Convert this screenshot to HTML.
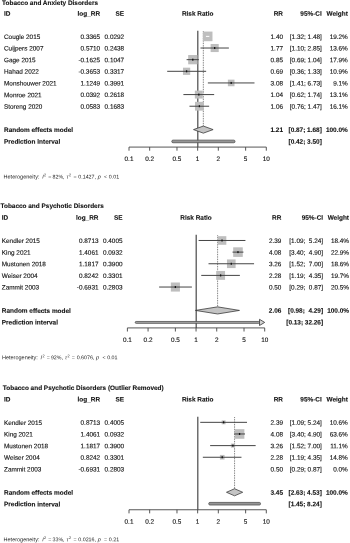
<!DOCTYPE html>
<html><head><meta charset="utf-8"><title>Forest plots</title>
<style>
html,body{margin:0;padding:0;background:#fff;}
body{width:350px;height:543px;overflow:hidden;font-family:"Liberation Sans",sans-serif;}
svg{display:block;will-change:transform;text-rendering:geometricPrecision;font-family:"Liberation Sans",sans-serif;font-size:6.4px;fill:#111;}
text{stroke:#111;stroke-width:0.12px;}
.h,.hh,.hi,.hs{stroke:none;fill:#262626;}.hh{font-size:5.52px;}.h{font-size:5.3px;}.hi{font-size:5.4px;font-style:italic;}.hs{font-size:3.7px;}
.b{font-weight:bold;font-size:6.45px;stroke-width:0.1px;}
</style></head><body>
<svg width="350" height="543" viewBox="0 0 350 543">
<rect x="0" y="0" width="350" height="543" fill="#ffffff"/>
<line x1="197.80" y1="30.68" x2="197.80" y2="147.09" stroke="#505050" stroke-width="1.25"/>
<line x1="203.33" y1="31.28" x2="203.33" y2="129.60" stroke="#222" stroke-width="0.7" stroke-dasharray="0.8 0.9"/>
<rect x="202.88" y="31.58" width="9.60" height="9.60" fill="#bebebe"/>
<line x1="205.93" y1="36.38" x2="209.34" y2="36.38" stroke="#fff" stroke-width="1"/>
<rect x="210.63" y="43.98" width="8.08" height="8.08" fill="#bebebe"/>
<line x1="200.49" y1="48.02" x2="228.88" y2="48.02" stroke="#444" stroke-width="1"/>
<rect x="214.02" y="47.02" width="1.3" height="2" fill="#111"/>
<rect x="188.17" y="55.03" width="9.27" height="9.27" fill="#bebebe"/>
<line x1="186.59" y1="59.66" x2="198.82" y2="59.66" stroke="#444" stroke-width="1"/>
<rect x="192.15" y="58.66" width="1.3" height="2" fill="#111"/>
<rect x="182.97" y="67.68" width="7.23" height="7.23" fill="#bebebe"/>
<line x1="167.19" y1="71.30" x2="206.15" y2="71.30" stroke="#444" stroke-width="1"/>
<rect x="185.94" y="70.30" width="1.3" height="2" fill="#111"/>
<rect x="227.88" y="79.64" width="6.61" height="6.61" fill="#bebebe"/>
<line x1="207.89" y1="82.94" x2="254.49" y2="82.94" stroke="#444" stroke-width="1"/>
<rect x="230.54" y="81.94" width="1.3" height="2" fill="#111"/>
<rect x="194.85" y="90.62" width="7.93" height="7.93" fill="#bebebe"/>
<line x1="183.40" y1="94.58" x2="214.16" y2="94.58" stroke="#444" stroke-width="1"/>
<rect x="198.17" y="93.58" width="1.3" height="2" fill="#111"/>
<rect x="194.99" y="101.82" width="8.79" height="8.79" fill="#bebebe"/>
<line x1="189.47" y1="106.22" x2="209.14" y2="106.22" stroke="#444" stroke-width="1"/>
<rect x="198.74" y="105.22" width="1.3" height="2" fill="#111"/>
<polygon points="193.50,129.60 203.33,126.05 213.12,129.60 203.33,133.15" fill="#c4c4c4" stroke="#333" stroke-width="0.75" stroke-linejoin="round"/>
<rect x="171.79" y="140.14" width="63.21" height="2.6" rx="1.2" fill="#959595" stroke="#505050" stroke-width="0.8"/>
<line x1="129.00" y1="147.09" x2="266.30" y2="147.09" stroke="#444" stroke-width="0.9"/>
<line x1="129.00" y1="147.09" x2="129.00" y2="150.69" stroke="#444" stroke-width="0.9"/>
<line x1="149.67" y1="147.09" x2="149.67" y2="150.69" stroke="#444" stroke-width="0.9"/>
<line x1="176.98" y1="147.09" x2="176.98" y2="150.69" stroke="#444" stroke-width="0.9"/>
<line x1="197.65" y1="147.09" x2="197.65" y2="150.69" stroke="#444" stroke-width="0.9"/>
<line x1="218.32" y1="147.09" x2="218.32" y2="150.69" stroke="#444" stroke-width="0.9"/>
<line x1="245.63" y1="147.09" x2="245.63" y2="150.69" stroke="#444" stroke-width="0.9"/>
<line x1="266.30" y1="147.09" x2="266.30" y2="150.69" stroke="#444" stroke-width="0.9"/>
<line x1="196.20" y1="234.78" x2="196.20" y2="327.91" stroke="#505050" stroke-width="1.25"/>
<line x1="217.60" y1="235.38" x2="217.60" y2="310.42" stroke="#222" stroke-width="0.7" stroke-dasharray="0.8 0.9"/>
<rect x="217.72" y="236.18" width="8.61" height="8.61" fill="#bebebe"/>
<line x1="198.62" y1="240.48" x2="245.43" y2="240.48" stroke="#444" stroke-width="1"/>
<rect x="221.38" y="239.48" width="1.3" height="2" fill="#111"/>
<rect x="233.17" y="247.32" width="9.60" height="9.60" fill="#bebebe"/>
<line x1="232.54" y1="252.12" x2="243.43" y2="252.12" stroke="#444" stroke-width="1"/>
<rect x="237.32" y="251.12" width="1.3" height="2" fill="#111"/>
<rect x="226.96" y="259.43" width="8.65" height="8.65" fill="#bebebe"/>
<line x1="208.53" y1="263.76" x2="254.07" y2="263.76" stroke="#444" stroke-width="1"/>
<rect x="230.63" y="262.76" width="1.3" height="2" fill="#111"/>
<rect x="216.17" y="270.95" width="8.90" height="8.90" fill="#bebebe"/>
<line x1="201.24" y1="275.40" x2="239.88" y2="275.40" stroke="#444" stroke-width="1"/>
<rect x="219.97" y="274.40" width="1.3" height="2" fill="#111"/>
<rect x="170.84" y="282.50" width="9.08" height="9.08" fill="#bebebe"/>
<line x1="159.14" y1="287.04" x2="191.90" y2="287.04" stroke="#444" stroke-width="1"/>
<rect x="174.73" y="286.04" width="1.3" height="2" fill="#111"/>
<polygon points="195.45,310.42 217.60,306.87 239.47,310.42 217.60,313.97" fill="#c4c4c4" stroke="#333" stroke-width="0.75" stroke-linejoin="round"/>
<rect x="135.22" y="321.46" width="124.48" height="1.9" rx="0.9" fill="#a6a6a6" stroke="#484848" stroke-width="0.75"/>
<polygon points="259.50,319.31 264.70,322.41 259.50,325.51" fill="#d2d2d2" stroke="#484848" stroke-width="0.9"/>
<line x1="127.40" y1="327.91" x2="264.70" y2="327.91" stroke="#444" stroke-width="0.9"/>
<line x1="127.40" y1="327.91" x2="127.40" y2="331.51" stroke="#444" stroke-width="0.9"/>
<line x1="148.07" y1="327.91" x2="148.07" y2="331.51" stroke="#444" stroke-width="0.9"/>
<line x1="175.38" y1="327.91" x2="175.38" y2="331.51" stroke="#444" stroke-width="0.9"/>
<line x1="196.05" y1="327.91" x2="196.05" y2="331.51" stroke="#444" stroke-width="0.9"/>
<line x1="216.72" y1="327.91" x2="216.72" y2="331.51" stroke="#444" stroke-width="0.9"/>
<line x1="244.03" y1="327.91" x2="244.03" y2="331.51" stroke="#444" stroke-width="0.9"/>
<line x1="264.70" y1="327.91" x2="264.70" y2="331.51" stroke="#444" stroke-width="0.9"/>
<line x1="197.80" y1="416.63" x2="197.80" y2="509.76" stroke="#505050" stroke-width="1.25"/>
<line x1="234.57" y1="417.23" x2="234.57" y2="492.27" stroke="#222" stroke-width="0.7" stroke-dasharray="0.8 0.9"/>
<rect x="221.67" y="420.37" width="3.92" height="3.92" fill="#bebebe"/>
<line x1="200.22" y1="422.33" x2="247.03" y2="422.33" stroke="#444" stroke-width="1"/>
<rect x="222.98" y="421.33" width="1.3" height="2" fill="#111"/>
<rect x="234.77" y="429.17" width="9.60" height="9.60" fill="#bebebe"/>
<line x1="234.14" y1="433.97" x2="245.03" y2="433.97" stroke="#444" stroke-width="1"/>
<rect x="238.92" y="432.97" width="1.3" height="2" fill="#111"/>
<rect x="230.88" y="443.60" width="4.01" height="4.01" fill="#bebebe"/>
<line x1="210.13" y1="445.61" x2="255.67" y2="445.61" stroke="#444" stroke-width="1"/>
<rect x="232.23" y="444.61" width="1.3" height="2" fill="#111"/>
<rect x="219.91" y="454.93" width="4.63" height="4.63" fill="#bebebe"/>
<line x1="202.84" y1="457.25" x2="241.48" y2="457.25" stroke="#444" stroke-width="1"/>
<rect x="221.57" y="456.25" width="1.3" height="2" fill="#111"/>
<polygon points="226.48,492.27 234.57,488.72 242.69,492.27 234.57,495.82" fill="#c4c4c4" stroke="#333" stroke-width="0.75" stroke-linejoin="round"/>
<rect x="208.73" y="502.41" width="51.80" height="2.6" rx="1.2" fill="#959595" stroke="#505050" stroke-width="0.8"/>
<line x1="129.00" y1="509.76" x2="266.30" y2="509.76" stroke="#444" stroke-width="0.9"/>
<line x1="129.00" y1="509.76" x2="129.00" y2="513.36" stroke="#444" stroke-width="0.9"/>
<line x1="149.67" y1="509.76" x2="149.67" y2="513.36" stroke="#444" stroke-width="0.9"/>
<line x1="176.98" y1="509.76" x2="176.98" y2="513.36" stroke="#444" stroke-width="0.9"/>
<line x1="197.65" y1="509.76" x2="197.65" y2="513.36" stroke="#444" stroke-width="0.9"/>
<line x1="218.32" y1="509.76" x2="218.32" y2="513.36" stroke="#444" stroke-width="0.9"/>
<line x1="245.63" y1="509.76" x2="245.63" y2="513.36" stroke="#444" stroke-width="0.9"/>
<line x1="266.30" y1="509.76" x2="266.30" y2="513.36" stroke="#444" stroke-width="0.9"/>
<g transform="matrix(1 0.0005 0 1 0 0)">
<text x="2.10" y="5.00" class="b">Tobacco and Anxiety Disorders</text>
<text x="4.00" y="15.65" class="b">ID</text>
<text x="100.10" y="15.60" text-anchor="end" class="b">log_RR</text>
<text x="124.10" y="15.59" text-anchor="end" class="b">SE</text>
<text x="197.65" y="15.55" text-anchor="middle" class="b">Risk Ratio</text>
<text x="283.00" y="15.51" text-anchor="end" class="b">RR</text>
<text x="321.80" y="15.49" text-anchor="end" class="b">95%-CI</text>
<text x="347.80" y="15.48" text-anchor="end" class="b">Weight</text>
<text x="4.00" y="38.93">Cougle 2015</text>
<text x="100.10" y="38.88" text-anchor="end">0.3365</text>
<text x="124.10" y="38.87" text-anchor="end">0.0292</text>
<text x="283.00" y="38.79" text-anchor="end">1.40</text>
<text x="321.80" y="38.77" text-anchor="end">[1.32; 1.48]</text>
<text x="347.80" y="38.76" text-anchor="end">19.2%</text>
<text x="4.00" y="50.57">Cuijpers 2007</text>
<text x="100.10" y="50.52" text-anchor="end">0.5710</text>
<text x="124.10" y="50.51" text-anchor="end">0.2438</text>
<text x="283.00" y="50.43" text-anchor="end">1.77</text>
<text x="321.80" y="50.41" text-anchor="end">[1.10; 2.85]</text>
<text x="347.80" y="50.40" text-anchor="end">13.6%</text>
<text x="4.00" y="62.21">Gage 2015</text>
<text x="100.10" y="62.16" text-anchor="end">-0.1625</text>
<text x="124.10" y="62.15" text-anchor="end">0.1047</text>
<text x="283.00" y="62.07" text-anchor="end">0.85</text>
<text x="321.80" y="62.05" text-anchor="end">[0.69; 1.04]</text>
<text x="347.80" y="62.04" text-anchor="end">17.9%</text>
<text x="4.00" y="73.85">Hahad 2022</text>
<text x="100.10" y="73.80" text-anchor="end">-0.3653</text>
<text x="124.10" y="73.79" text-anchor="end">0.3317</text>
<text x="283.00" y="73.71" text-anchor="end">0.69</text>
<text x="321.80" y="73.69" text-anchor="end">[0.36; 1.33]</text>
<text x="347.80" y="73.68" text-anchor="end">10.9%</text>
<text x="4.00" y="85.49">Monshouwer 2021</text>
<text x="100.10" y="85.44" text-anchor="end">1.1249</text>
<text x="124.10" y="85.43" text-anchor="end">0.3991</text>
<text x="283.00" y="85.35" text-anchor="end">3.08</text>
<text x="321.80" y="85.33" text-anchor="end">[1.41; 6.73]</text>
<text x="347.80" y="85.32" text-anchor="end">9.1%</text>
<text x="4.00" y="97.13">Monroe 2021</text>
<text x="100.10" y="97.08" text-anchor="end">0.0392</text>
<text x="124.10" y="97.07" text-anchor="end">0.2618</text>
<text x="283.00" y="96.99" text-anchor="end">1.04</text>
<text x="321.80" y="96.97" text-anchor="end">[0.62; 1.74]</text>
<text x="347.80" y="96.96" text-anchor="end">13.1%</text>
<text x="4.00" y="108.77">Storeng 2020</text>
<text x="100.10" y="108.72" text-anchor="end">0.0583</text>
<text x="124.10" y="108.71" text-anchor="end">0.1683</text>
<text x="283.00" y="108.63" text-anchor="end">1.06</text>
<text x="321.80" y="108.61" text-anchor="end">[0.76; 1.47]</text>
<text x="347.80" y="108.60" text-anchor="end">16.1%</text>
<text x="4.00" y="132.05" class="b">Random effects model</text>
<text x="283.00" y="131.91" text-anchor="end" class="b">1.21</text>
<text x="321.80" y="131.89" text-anchor="end" class="b">[0.87; 1.68]</text>
<text x="347.80" y="131.88" text-anchor="end" class="b">100.0%</text>
<text x="4.00" y="143.69" class="b">Prediction interval</text>
<text x="321.80" y="143.53" text-anchor="end" class="b">[0.42; 3.50]</text>
<text x="129.00" y="161.03" text-anchor="middle">0.1</text>
<text x="149.67" y="161.02" text-anchor="middle">0.2</text>
<text x="176.98" y="161.00" text-anchor="middle">0.5</text>
<text x="197.65" y="160.99" text-anchor="middle">1</text>
<text x="218.32" y="160.98" text-anchor="middle">2</text>
<text x="245.63" y="160.97" text-anchor="middle">5</text>
<text x="266.30" y="160.96" text-anchor="middle">10</text>
<text x="3.55" y="178.51" class="hh">Heterogeneity:</text>
<text x="42.20" y="178.49" class="hi">I</text>
<text x="44.00" y="176.29" class="hs">2</text>
<text x="48.30" y="178.49" class="h">=</text>
<text x="52.50" y="178.48" class="h">82%,</text>
<text x="66.50" y="178.48" class="hi">τ</text>
<text x="69.00" y="176.28" class="hs">2</text>
<text x="73.40" y="178.47" class="h">=</text>
<text x="78.30" y="178.47" class="h">0.1427,</text>
<text x="97.70" y="178.46" class="hi">p</text>
<text x="104.10" y="178.46" class="h">&lt;</text>
<text x="108.80" y="178.46" class="h">0.01</text>
<text x="0.50" y="208.00" class="b">Tobacco and Psychotic Disorders</text>
<text x="1.80" y="219.75" class="b">ID</text>
<text x="98.50" y="219.70" text-anchor="end" class="b">log_RR</text>
<text x="122.50" y="219.69" text-anchor="end" class="b">SE</text>
<text x="196.05" y="219.65" text-anchor="middle" class="b">Risk Ratio</text>
<text x="281.40" y="219.61" text-anchor="end" class="b">RR</text>
<text x="323.10" y="219.59" text-anchor="end" class="b">95%-CI</text>
<text x="349.00" y="219.58" text-anchor="end" class="b">Weight</text>
<text x="1.80" y="243.03">Kendler 2015</text>
<text x="98.50" y="242.98" text-anchor="end">0.8713</text>
<text x="122.50" y="242.97" text-anchor="end">0.4005</text>
<text x="281.40" y="242.89" text-anchor="end">2.39</text>
<text x="323.10" y="242.87" text-anchor="end">[1.09; &#160;5.24]</text>
<text x="349.00" y="242.86" text-anchor="end">18.4%</text>
<text x="1.80" y="254.67">King 2021</text>
<text x="98.50" y="254.62" text-anchor="end">1.4061</text>
<text x="122.50" y="254.61" text-anchor="end">0.0932</text>
<text x="281.40" y="254.53" text-anchor="end">4.08</text>
<text x="323.10" y="254.51" text-anchor="end">[3.40; &#160;4.90]</text>
<text x="349.00" y="254.50" text-anchor="end">22.9%</text>
<text x="1.80" y="266.31">Mustonen 2018</text>
<text x="98.50" y="266.26" text-anchor="end">1.1817</text>
<text x="122.50" y="266.25" text-anchor="end">0.3900</text>
<text x="281.40" y="266.17" text-anchor="end">3.26</text>
<text x="323.10" y="266.15" text-anchor="end">[1.52; &#160;7.00]</text>
<text x="349.00" y="266.14" text-anchor="end">18.6%</text>
<text x="1.80" y="277.95">Weiser 2004</text>
<text x="98.50" y="277.90" text-anchor="end">0.8242</text>
<text x="122.50" y="277.89" text-anchor="end">0.3301</text>
<text x="281.40" y="277.81" text-anchor="end">2.28</text>
<text x="323.10" y="277.79" text-anchor="end">[1.19; &#160;4.35]</text>
<text x="349.00" y="277.78" text-anchor="end">19.7%</text>
<text x="1.80" y="289.59">Zammit 2003</text>
<text x="98.50" y="289.54" text-anchor="end">-0.6931</text>
<text x="122.50" y="289.53" text-anchor="end">0.2803</text>
<text x="281.40" y="289.45" text-anchor="end">0.50</text>
<text x="323.10" y="289.43" text-anchor="end">[0.29; &#160;0.87]</text>
<text x="349.00" y="289.42" text-anchor="end">20.5%</text>
<text x="1.80" y="312.87" class="b">Random effects model</text>
<text x="281.40" y="312.73" text-anchor="end" class="b">2.06</text>
<text x="323.10" y="312.71" text-anchor="end" class="b">[0.98; &#160;4.29]</text>
<text x="349.00" y="312.70" text-anchor="end" class="b">100.0%</text>
<text x="1.80" y="324.51" class="b">Prediction interval</text>
<text x="323.10" y="324.35" text-anchor="end" class="b">[0.13; 32.26]</text>
<text x="127.40" y="341.85" text-anchor="middle">0.1</text>
<text x="148.07" y="341.84" text-anchor="middle">0.2</text>
<text x="175.38" y="341.82" text-anchor="middle">0.5</text>
<text x="196.05" y="341.81" text-anchor="middle">1</text>
<text x="216.72" y="341.80" text-anchor="middle">2</text>
<text x="244.03" y="341.79" text-anchor="middle">5</text>
<text x="264.70" y="341.78" text-anchor="middle">10</text>
<text x="1.95" y="359.33" class="hh">Heterogeneity:</text>
<text x="40.60" y="359.31" class="hi">I</text>
<text x="42.40" y="357.11" class="hs">2</text>
<text x="46.70" y="359.31" class="h">=</text>
<text x="50.90" y="359.30" class="h">92%,</text>
<text x="64.90" y="359.30" class="hi">τ</text>
<text x="67.40" y="357.10" class="hs">2</text>
<text x="71.80" y="359.29" class="h">=</text>
<text x="76.70" y="359.29" class="h">0.6076,</text>
<text x="96.10" y="359.28" class="hi">p</text>
<text x="102.50" y="359.28" class="h">&lt;</text>
<text x="107.20" y="359.28" class="h">0.01</text>
<text x="2.85" y="390.00" class="b">Tobacco and Psychotic Disorders (Outlier Removed)</text>
<text x="4.00" y="401.60" class="b">ID</text>
<text x="100.10" y="401.55" text-anchor="end" class="b">log_RR</text>
<text x="124.10" y="401.54" text-anchor="end" class="b">SE</text>
<text x="197.65" y="401.50" text-anchor="middle" class="b">Risk Ratio</text>
<text x="283.00" y="401.46" text-anchor="end" class="b">RR</text>
<text x="321.80" y="401.44" text-anchor="end" class="b">95%-CI</text>
<text x="347.80" y="401.43" text-anchor="end" class="b">Weight</text>
<text x="4.00" y="424.88">Kendler 2015</text>
<text x="100.10" y="424.83" text-anchor="end">0.8713</text>
<text x="124.10" y="424.82" text-anchor="end">0.4005</text>
<text x="283.00" y="424.74" text-anchor="end">2.39</text>
<text x="321.80" y="424.72" text-anchor="end">[1.09; 5.24]</text>
<text x="347.80" y="424.71" text-anchor="end">10.6%</text>
<text x="4.00" y="436.52">King 2021</text>
<text x="100.10" y="436.47" text-anchor="end">1.4061</text>
<text x="124.10" y="436.46" text-anchor="end">0.0932</text>
<text x="283.00" y="436.38" text-anchor="end">4.08</text>
<text x="321.80" y="436.36" text-anchor="end">[3.40; 4.90]</text>
<text x="347.80" y="436.35" text-anchor="end">63.6%</text>
<text x="4.00" y="448.16">Mustonen 2018</text>
<text x="100.10" y="448.11" text-anchor="end">1.1817</text>
<text x="124.10" y="448.10" text-anchor="end">0.3900</text>
<text x="283.00" y="448.02" text-anchor="end">3.26</text>
<text x="321.80" y="448.00" text-anchor="end">[1.52; 7.00]</text>
<text x="347.80" y="447.99" text-anchor="end">11.1%</text>
<text x="4.00" y="459.80">Weiser 2004</text>
<text x="100.10" y="459.75" text-anchor="end">0.8242</text>
<text x="124.10" y="459.74" text-anchor="end">0.3301</text>
<text x="283.00" y="459.66" text-anchor="end">2.28</text>
<text x="321.80" y="459.64" text-anchor="end">[1.19; 4.35]</text>
<text x="347.80" y="459.63" text-anchor="end">14.8%</text>
<text x="4.00" y="471.44">Zammit 2003</text>
<text x="100.10" y="471.39" text-anchor="end">-0.6931</text>
<text x="124.10" y="471.38" text-anchor="end">0.2803</text>
<text x="283.00" y="471.30" text-anchor="end">0.50</text>
<text x="321.80" y="471.28" text-anchor="end">[0.29; 0.87]</text>
<text x="347.80" y="471.27" text-anchor="end">0.0%</text>
<text x="4.00" y="494.72" class="b">Random effects model</text>
<text x="283.00" y="494.58" text-anchor="end" class="b">3.45</text>
<text x="321.80" y="494.56" text-anchor="end" class="b">[2.63; 4.53]</text>
<text x="347.80" y="494.55" text-anchor="end" class="b">100.0%</text>
<text x="4.00" y="506.36" class="b">Prediction interval</text>
<text x="321.80" y="506.20" text-anchor="end" class="b">[1.45; 8.24]</text>
<text x="129.00" y="523.70" text-anchor="middle">0.1</text>
<text x="149.67" y="523.69" text-anchor="middle">0.2</text>
<text x="176.98" y="523.67" text-anchor="middle">0.5</text>
<text x="197.65" y="523.66" text-anchor="middle">1</text>
<text x="218.32" y="523.65" text-anchor="middle">2</text>
<text x="245.63" y="523.64" text-anchor="middle">5</text>
<text x="266.30" y="523.63" text-anchor="middle">10</text>
<text x="3.55" y="541.18" class="hh">Heterogeneity:</text>
<text x="42.20" y="541.16" class="hi">I</text>
<text x="44.00" y="538.96" class="hs">2</text>
<text x="48.30" y="541.16" class="h">=</text>
<text x="52.50" y="541.15" class="h">33%,</text>
<text x="66.50" y="541.15" class="hi">τ</text>
<text x="69.00" y="538.95" class="hs">2</text>
<text x="73.40" y="541.14" class="h">=</text>
<text x="78.30" y="541.14" class="h">0.0216,</text>
<text x="97.70" y="541.13" class="hi">p</text>
<text x="104.10" y="541.13" class="h">=</text>
<text x="108.80" y="541.13" class="h">0.21</text>
</g>
</svg>
</body></html>
